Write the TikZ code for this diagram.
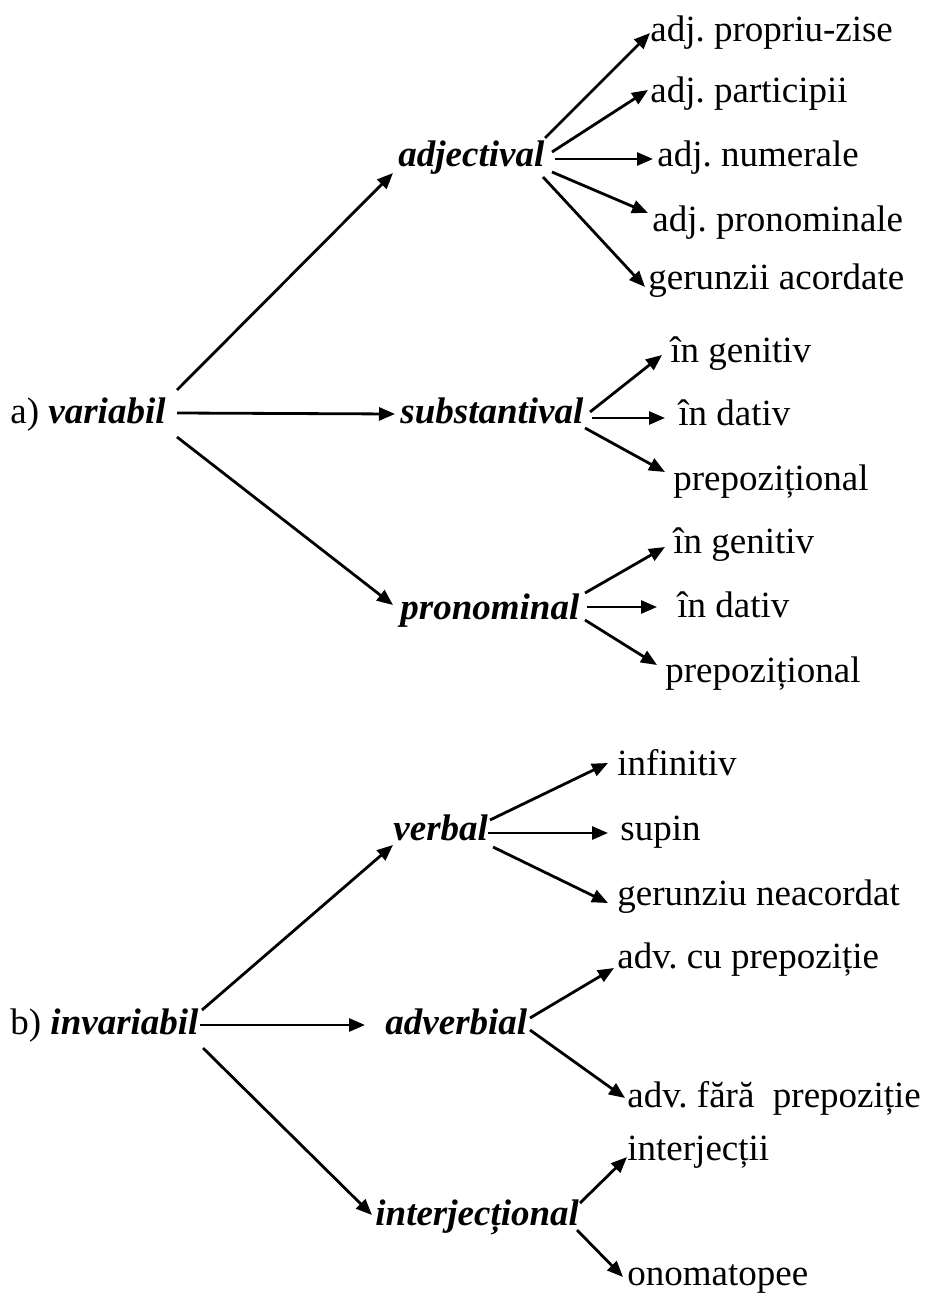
\documentclass[tikz,border=0pt]{standalone}
\usepackage{fontspec}
\setmainfont{Liberation Serif}
\usetikzlibrary{arrows.meta}
\frenchspacing
\begin{document}
\begin{tikzpicture}[x=0.5pt,y=-0.5pt,
  lbl/.style={anchor=base west,inner sep=0pt,font=\fontsize{18.5}{22}\selectfont},
  cat/.style={anchor=base west,inner sep=0pt,font=\fontsize{18.5}{22}\selectfont\bfseries\itshape},
  arr/.style={-{Triangle[length=8pt,width=6.5pt]},line width=1.4pt}]
\path[use as bounding box,fill=white] (0,0) rectangle (928,1299);
% part a
\node[lbl] (var) at (10,423) {a) \textbf{\textit{variabil}}};
\node[cat] (adj) at (398,167) {adjectival};
\node[cat] (sub) at (400,423) {substantival};
\node[cat] (pro) at (400,619) {pronominal};
\node[lbl] (a1) at (650,42) {adj. propriu-zise};
\node[lbl] (a2) at (650,103) {adj. participii};
\node[lbl] (a3) at (657,167) {adj. numerale};
\node[lbl] (a4) at (652,232) {adj. pronominale};
\node[lbl] (a5) at (648,290) {gerunzii acordate};
\node[lbl] (s1) at (670,362) {în genitiv};
\node[lbl] (s2) at (678,425) {în dativ};
\node[lbl] (s3) at (673,490) {prepozițional};
\node[lbl] (p1) at (673,553) {în genitiv};
\node[lbl] (p2) at (677,617) {în dativ};
\node[lbl] (p3) at (665,682) {prepozițional};
% part b
\node[lbl] (inv) at (10,1034) {b) \textbf{\textit{invariabil}}};
\node[cat] (ver) at (393,840) {verbal};
\node[cat] (adv) at (385,1034) {adverbial};
\node[cat] (int) at (375,1225) {interjecțional};
\node[lbl] (v1) at (617,775) {infinitiv};
\node[lbl] (v2) at (620,840) {supin};
\node[lbl] (v3) at (617,905) {gerunziu neacordat};
\node[lbl] (d1) at (617,968) {adv. cu prepoziție};
\node[lbl] (d2) at (627,1107) {adv. fără~~prepoziție};
\node[lbl] (i1) at (627,1160) {interjecții};
\node[lbl] (i2) at (627,1285) {onomatopee};
% connectors a
\draw[arr] ([shift={(167,-33)}]var.base west) -- ([shift={(-5,6)}]adj.base west);
\draw[arr] ([shift={(167,-10)}]var.base west) -- ([shift={(-5,-9)}]sub.base west);
\draw[arr] ([shift={(167,14)}]var.base west) -- ([shift={(-7,-14)}]pro.base west);
\draw[arr] ([shift={(147,-29)}]adj.base west) -- ([shift={(0,-9)}]a1.base west);
\draw[arr] ([shift={(154,-15)}]adj.base west) -- ([shift={(-2,-13)}]a2.base west);
\draw[arr] ([shift={(157,-8)}]adj.base west) -- ([shift={(-4,-8)}]a3.base west);
\draw[arr] ([shift={(154,5)}]adj.base west) -- ([shift={(-4,-19)}]a4.base west);
\draw[arr] ([shift={(145,10)}]adj.base west) -- ([shift={(-3,-3)}]a5.base west);
\draw[arr] ([shift={(190,-11)}]sub.base west) -- ([shift={(-8,-7)}]s1.base west);
\draw[arr] ([shift={(192,-5)}]sub.base west) -- ([shift={(-13,-7)}]s2.base west);
\draw[arr] ([shift={(185,5)}]sub.base west) -- ([shift={(-8,-18)}]s3.base west);
\draw[arr] ([shift={(185,-26)}]pro.base west) -- ([shift={(-8,-6)}]p1.base west);
\draw[arr] ([shift={(187,-12)}]pro.base west) -- ([shift={(-20,-10)}]p2.base west);
\draw[arr] ([shift={(185,1)}]pro.base west) -- ([shift={(-8,-17)}]p3.base west);
% connectors b
\draw[arr] ([shift={(192,-24)}]inv.base west) -- ([shift={(0,5)}]ver.base west);
\draw[arr] ([shift={(190,-9)}]inv.base west) -- ([shift={(-20,-9)}]adv.base west);
\draw[arr] ([shift={(193,14)}]inv.base west) -- ([shift={(-3,-10)}]int.base west);
\draw[arr] ([shift={(97,-20)}]ver.base west) -- ([shift={(-9,-12)}]v1.base west);
\draw[arr] ([shift={(95,-7)}]ver.base west) -- ([shift={(-12,-7)}]v2.base west);
\draw[arr] ([shift={(100,7)}]ver.base west) -- ([shift={(-9,-2)}]v3.base west);
\draw[arr] ([shift={(145,-16)}]adv.base west) -- ([shift={(-3,0)}]d1.base west);
\draw[arr] ([shift={(145,-4)}]adv.base west) -- ([shift={(-2,-9)}]d2.base west);
\draw[arr] ([shift={(205,-22)}]int.base west) -- ([shift={(0,-3)}]i1.base west);
\draw[arr] ([shift={(202,5)}]int.base west) -- ([shift={(-4,-8)}]i2.base west);
\end{tikzpicture}
\end{document}
